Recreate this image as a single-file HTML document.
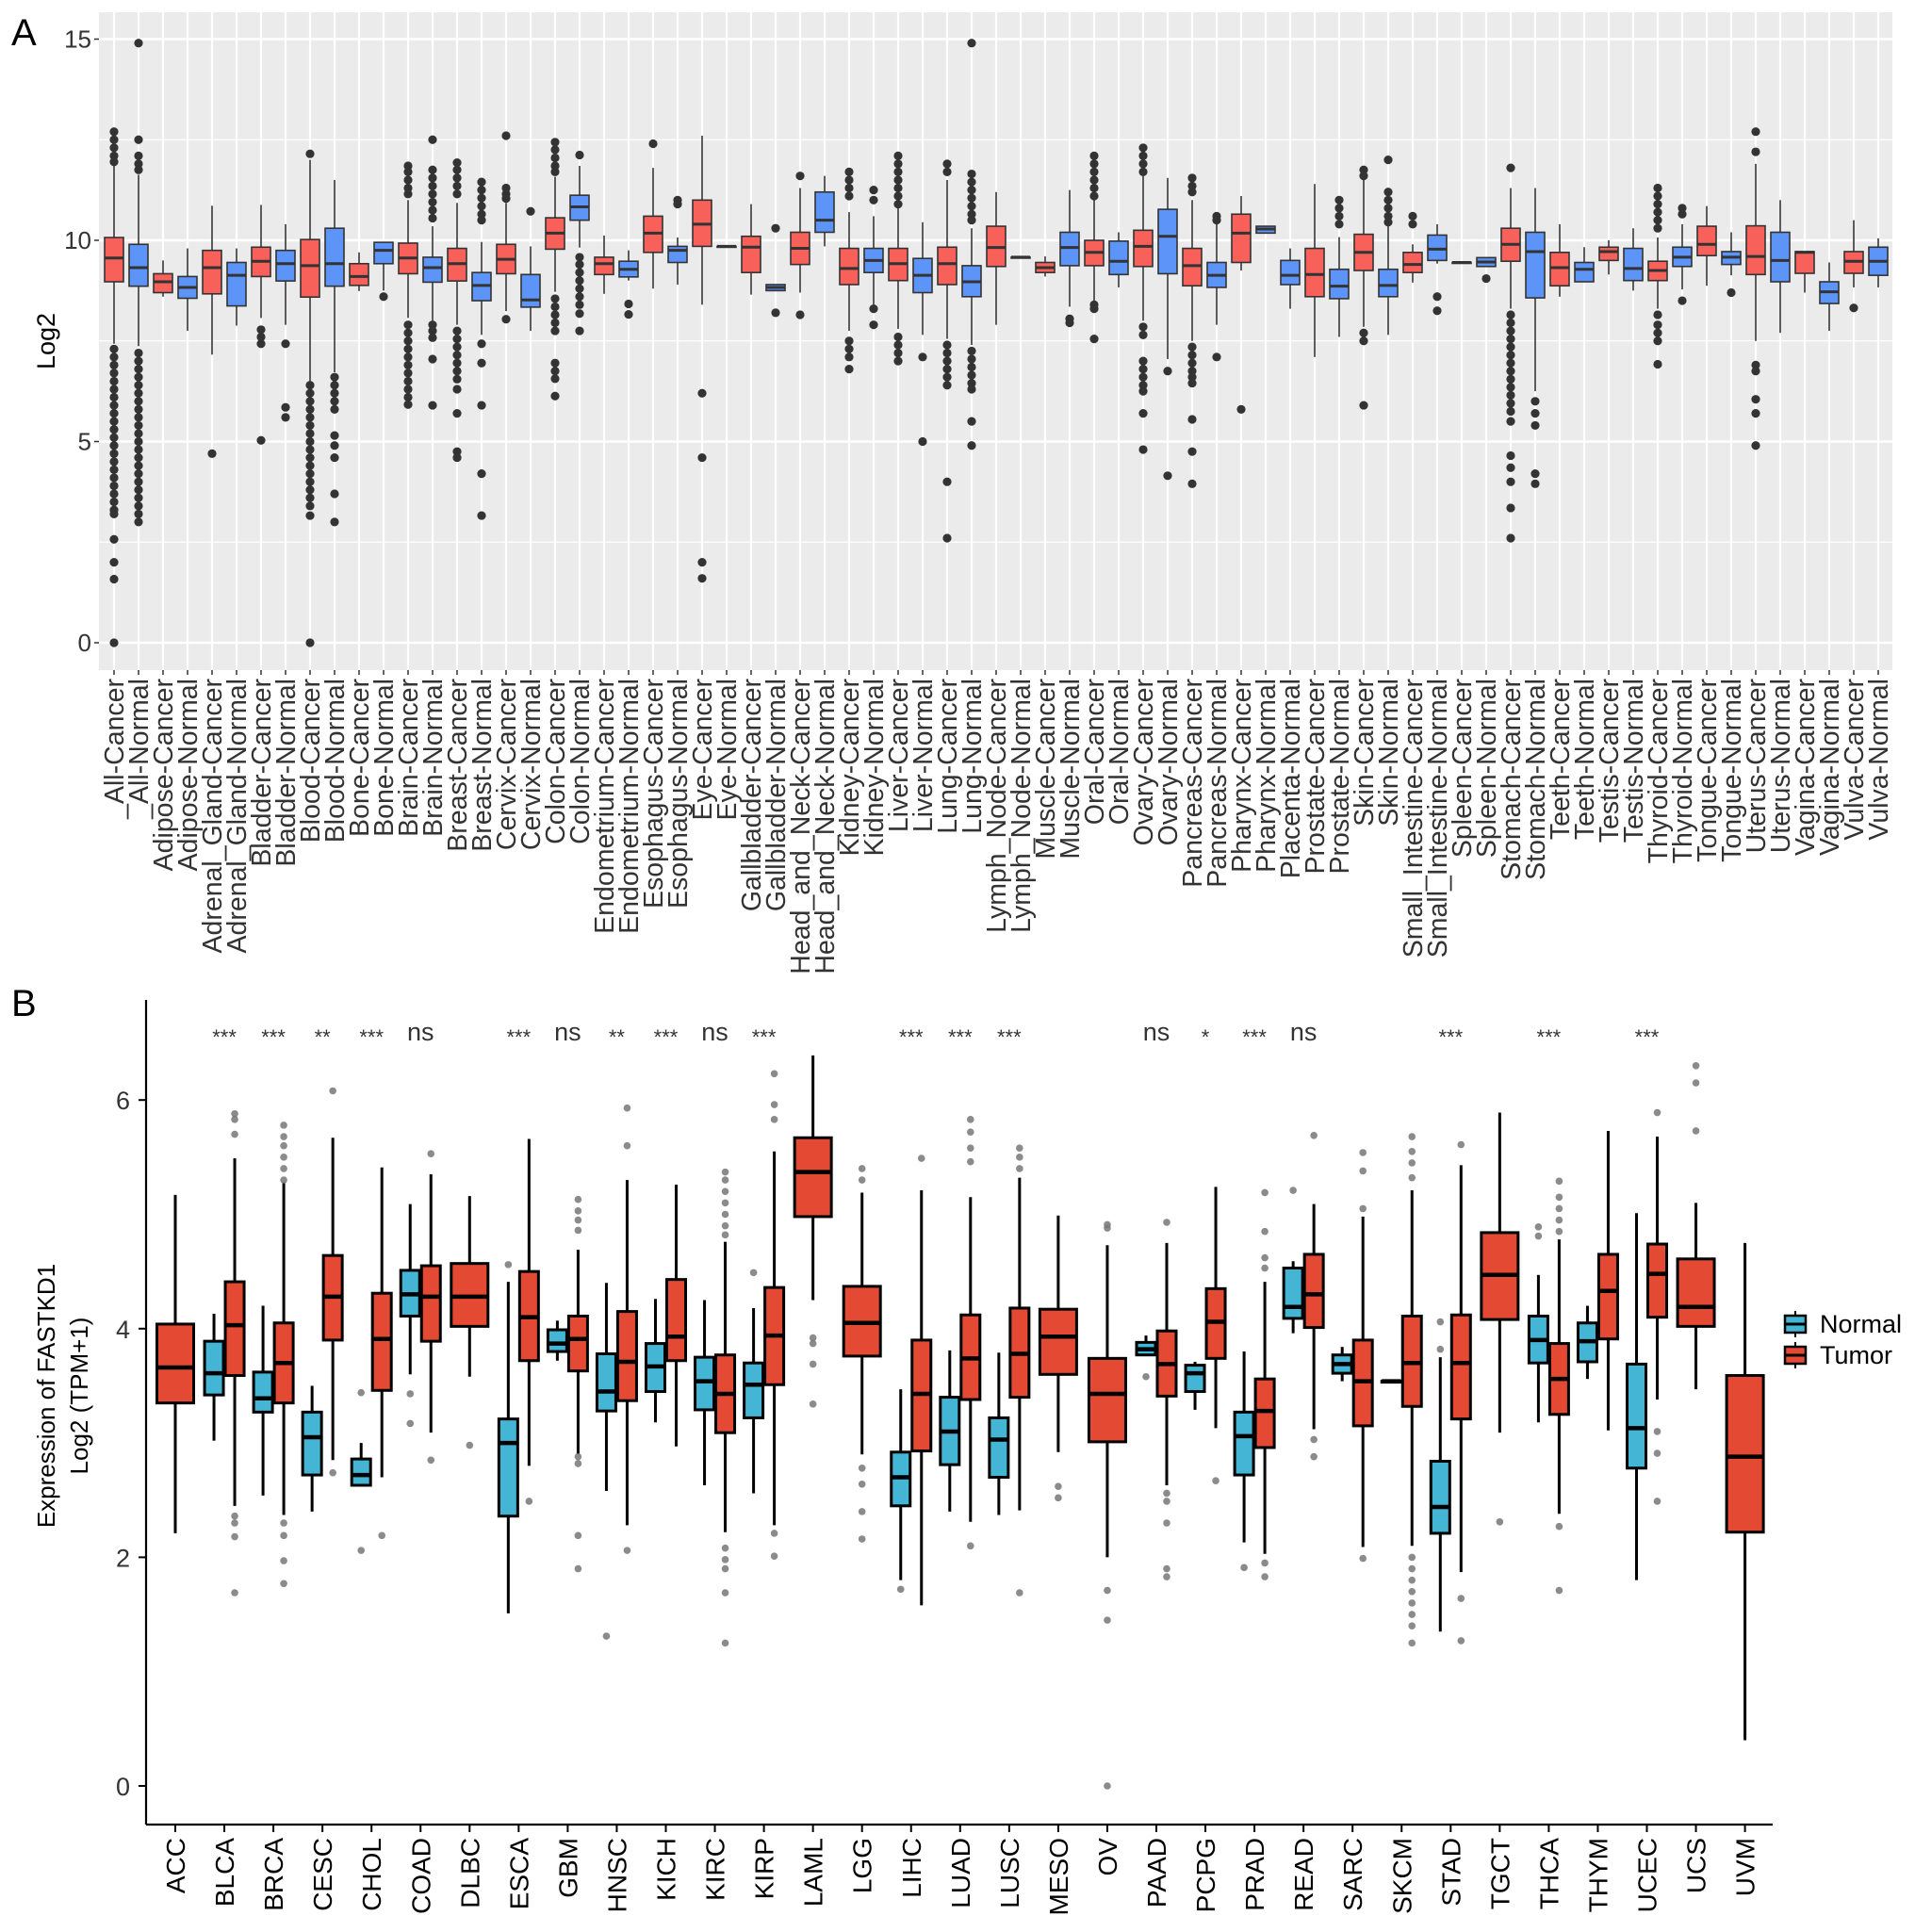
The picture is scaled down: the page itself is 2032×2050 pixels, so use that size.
<!DOCTYPE html>
<html><head><meta charset="utf-8"><style>
html,body{margin:0;padding:0;background:#fff}
svg{display:block;font-family:"Liberation Sans",Arial,sans-serif}
</style></head><body>
<svg id="fig" width="2032" height="2050" viewBox="0 0 2032 2050" xmlns="http://www.w3.org/2000/svg">
<g id="pa"></g>
<g id="pb"></g>
</svg>
<script>
// ---------- Panel A data ----------
const labelsA=["_All-Cancer","_All-Normal","Adipose-Cancer","Adipose-Normal","Adrenal_Gland-Cancer","Adrenal_Gland-Normal","Bladder-Cancer","Bladder-Normal","Blood-Cancer","Blood-Normal","Bone-Cancer","Bone-Normal","Brain-Cancer","Brain-Normal","Breast-Cancer","Breast-Normal","Cervix-Cancer","Cervix-Normal","Colon-Cancer","Colon-Normal","Endometrium-Cancer","Endometrium-Normal","Esophagus-Cancer","Esophagus-Normal","Eye-Cancer","Eye-Normal","Gallbladder-Cancer","Gallbladder-Normal","Head_and_Neck-Cancer","Head_and_Neck-Normal","Kidney-Cancer","Kidney-Normal","Liver-Cancer","Liver-Normal","Lung-Cancer","Lung-Normal","Lymph_Node-Cancer","Lymph_Node-Normal","Muscle-Cancer","Muscle-Normal","Oral-Cancer","Oral-Normal","Ovary-Cancer","Ovary-Normal","Pancreas-Cancer","Pancreas-Normal","Pharynx-Cancer","Pharynx-Normal","Placenta-Normal","Prostate-Cancer","Prostate-Normal","Skin-Cancer","Skin-Normal","Small_Intestine-Cancer","Small_Intestine-Normal","Spleen-Cancer","Spleen-Normal","Stomach-Cancer","Stomach-Normal","Teeth-Cancer","Teeth-Normal","Testis-Cancer","Testis-Normal","Thyroid-Cancer","Thyroid-Normal","Tongue-Cancer","Tongue-Normal","Uterus-Cancer","Uterus-Normal","Vagina-Cancer","Vagina-Normal","Vulva-Cancer","Vulva-Normal"];
const q1A=[8.97,8.86,8.7,8.56,8.67,8.37,9.1,8.99,8.59,8.86,8.88,9.42,9.17,8.96,8.99,8.5,9.17,8.34,9.78,10.5,9.15,9.09,9.7,9.45,9.85,9.85,9.2,8.75,9.4,10.2,8.9,9.2,9.0,8.7,8.9,8.6,9.35,9.58,9.2,9.37,9.37,9.15,9.35,9.17,8.87,8.83,9.45,10.18,8.9,8.6,8.55,9.25,8.6,9.2,9.5,9.45,9.35,9.48,8.57,8.87,8.97,9.5,9.0,9.0,9.35,9.62,9.4,9.15,8.97,9.18,8.43,9.18,9.13];
const medA=[9.56,9.32,8.97,8.83,9.32,9.13,9.48,9.42,9.37,9.42,9.1,9.75,9.56,9.32,9.42,8.88,9.53,8.52,10.18,10.83,9.42,9.28,10.18,9.75,10.4,9.85,9.83,8.83,9.8,10.5,9.3,9.5,9.42,9.13,9.42,8.97,9.82,9.58,9.32,9.82,9.7,9.48,9.85,10.1,9.37,9.13,10.18,10.28,9.13,9.15,8.86,9.7,8.88,9.4,9.78,9.45,9.46,9.9,9.72,9.32,9.28,9.72,9.3,9.25,9.58,9.9,9.58,9.6,9.5,9.7,8.72,9.48,9.48];
const q3A=[10.07,9.9,9.17,9.1,9.75,9.45,9.83,9.75,10.02,10.3,9.42,9.95,9.93,9.58,9.8,9.2,9.9,9.15,10.56,11.12,9.58,9.48,10.6,9.85,11.0,9.85,10.1,8.9,10.2,11.2,9.8,9.8,9.8,9.55,9.83,9.37,10.35,9.58,9.45,10.2,10.0,9.98,10.25,10.77,9.8,9.45,10.65,10.35,9.5,9.8,9.28,10.15,9.28,9.7,10.13,9.45,9.57,10.3,10.2,9.7,9.45,9.83,9.8,9.48,9.83,10.35,9.72,10.36,10.2,9.72,8.97,9.72,9.83];
const loA=[7.43,7.37,8.6,7.75,7.16,7.88,8.07,7.9,6.5,6.72,8.74,8.75,8.07,8.0,7.9,7.65,8.24,7.75,8.72,9.82,8.67,9.0,8.8,8.9,8.4,9.85,8.65,8.75,8.7,9.85,7.75,8.4,7.8,7.65,7.55,7.4,7.9,9.58,9.1,8.35,8.5,8.83,8.0,7.05,7.5,7.9,9.25,10.18,8.3,7.1,7.6,7.85,7.65,8.95,9.42,9.45,9.35,8.3,6.25,8.6,8.97,9.15,8.75,8.3,8.78,8.87,9.13,7.5,7.7,8.7,7.75,8.83,8.83];
const hiA=[11.87,11.63,9.5,9.8,10.86,9.8,10.88,10.4,12.0,11.5,9.7,9.95,11.0,10.35,10.93,9.96,10.93,9.85,11.58,11.85,10.12,9.75,11.8,10.07,12.6,9.85,10.9,8.9,11.3,11.6,10.7,10.6,10.8,10.45,11.5,10.3,11.2,9.58,9.6,11.25,11.0,10.2,11.6,11.55,11.0,10.4,11.1,10.35,9.8,11.4,10.08,11.5,10.35,9.9,10.4,9.45,9.57,11.3,11.3,10.4,9.83,10.0,10.3,10.07,10.4,10.85,10.2,11.9,11.0,9.72,9.45,10.5,10.05];
const outA=[
[12.7,12.5,12.3,12.1,11.95,7.3,7.1,6.9,6.7,6.5,6.3,6.1,5.9,5.7,5.5,5.3,5.1,4.9,4.7,4.5,4.3,4.1,3.9,3.7,3.5,3.3,3.2,2.57,2.0,1.58,0],
[14.9,12.5,12.1,11.9,11.75,7.2,7.0,6.8,6.6,6.4,6.2,6.0,5.8,5.6,5.4,5.2,5.0,4.8,4.6,4.4,4.2,4.0,3.8,3.6,3.4,3.2,3.0],
[],[],[4.7],[],[7.78,7.6,7.43,5.03],[7.43,5.85,5.6],
[12.15,6.4,6.2,6.0,5.8,5.6,5.4,5.2,5.0,4.8,4.6,4.4,4.2,4.0,3.8,3.6,3.4,3.16,0],
[6.6,6.4,6.2,6.0,5.8,5.15,4.9,4.6,3.7,3.0],
[],[8.6],
[11.85,11.7,11.5,11.3,11.15,7.9,7.7,7.5,7.3,7.1,6.9,6.7,6.5,6.3,6.1,5.92],
[12.5,11.75,11.55,11.35,11.15,10.95,10.75,10.55,7.9,7.75,7.58,7.05,5.9],
[11.93,11.75,11.55,11.35,11.15,7.75,7.55,7.35,7.15,6.95,6.75,6.55,6.3,5.7,4.75,4.6],
[11.45,11.25,11.05,10.85,10.65,10.5,7.43,6.95,5.9,4.2,3.16],
[12.6,11.3,11.15,11.04,8.04],[10.72],
[12.44,12.25,12.05,11.85,11.7,8.55,8.35,8.15,7.95,7.75,6.95,6.75,6.56,6.13],
[12.12,9.58,9.4,9.2,9.0,8.8,8.6,8.4,8.18,7.75],
[],[8.42,8.16],[12.4],[11.0,10.9],[6.2,4.6,2.0,1.6],[],[],[10.3,8.2],[11.6,8.15],[],
[11.7,11.5,11.3,11.1,7.5,7.3,7.1,6.8],[11.25,11.0,8.3,7.9],
[12.1,11.9,11.7,11.5,11.3,11.1,10.9,7.6,7.4,7.2,7.0],[7.1,5.0],
[11.9,11.7,7.4,7.2,7.0,6.8,6.6,6.4,4.0,2.6],
[14.9,11.65,11.45,11.25,11.05,10.85,10.65,10.5,7.25,7.05,6.85,6.65,6.45,6.3,5.5,4.9],
[],[],[],[8.05,7.95],
[12.1,11.9,11.7,11.5,11.3,11.1,8.4,8.3,7.55],[],
[12.3,12.1,11.9,11.7,7.85,7.65,7.0,6.8,6.6,6.4,6.25,5.7,4.8],[6.75,4.15],
[11.55,11.35,11.2,7.35,7.15,6.95,6.75,6.6,6.45,5.55,4.75,3.95],[10.6,10.5,7.1],
[5.8],[],[],[],[11.0,10.8,10.6,10.4],[11.75,11.6,7.7,7.5,5.9],[12.0,11.2,11.0,10.8,10.6,10.45],
[10.6,10.4],[8.6,8.25],[],[9.05],
[11.8,8.15,7.95,7.75,7.55,7.35,7.15,6.95,6.75,6.55,6.35,6.15,5.95,5.75,5.5,4.65,4.35,4.0,3.35,2.6],
[6.0,5.7,5.4,4.2,3.95],[],[],[],[],
[11.3,11.1,10.9,10.7,10.5,10.3,8.15,7.9,7.7,7.5,6.92],[10.8,10.65,8.5],[],[8.7],
[12.7,12.2,6.9,6.75,6.05,5.7,4.9],[],[],[],[8.32],[]];
const ticksA=[0,5,10,15];

// ---------- Panel B data ----------
const catsB=["ACC","BLCA","BRCA","CESC","CHOL","COAD","DLBC","ESCA","GBM","HNSC","KICH","KIRC","KIRP","LAML","LGG","LIHC","LUAD","LUSC","MESO","OV","PAAD","PCPG","PRAD","READ","SARC","SKCM","STAD","TGCT","THCA","THYM","UCEC","UCS","UVM"];
const sigB=["","***","***","**","***","ns","","***","ns","**","***","ns","***","","","***","***","***","","","ns","*","***","ns","","","***","","***","","***","",""];
// normal: [q1, median, q3, whiskerLow, whiskerHigh]
const normalB=[null,[3.42,3.61,3.89,3.02,4.13],[3.27,3.39,3.62,2.54,4.2],[2.72,3.05,3.27,2.4,3.5],[2.63,2.72,2.86,2.63,3.0],[4.11,4.3,4.51,3.6,5.09],null,[2.36,3.0,3.21,1.51,4.41],[3.8,3.87,3.99,3.72,4.07],[3.28,3.45,3.78,2.58,4.4],[3.45,3.67,3.87,3.18,4.26],[3.29,3.54,3.75,2.63,4.25],[3.22,3.51,3.7,2.56,4.18],null,null,[2.45,2.7,2.92,1.8,3.47],[2.81,3.1,3.4,2.4,3.81],[2.7,3.03,3.22,2.37,3.79],null,null,[3.77,3.82,3.88,3.77,3.94],[3.45,3.61,3.68,3.29,3.71],[2.72,3.06,3.27,2.13,3.8],[4.09,4.19,4.53,3.96,4.59],[3.61,3.69,3.77,3.54,3.84],[3.54,3.54,3.54,3.54,3.54],[2.21,2.44,2.84,1.35,3.75],null,[3.7,3.9,4.11,3.18,4.47],[3.71,3.89,4.05,3.56,4.2],[2.78,3.13,3.69,1.8,5.01],null,null];
const normalOutB=[[],[],[],[],[3.44,2.06],[3.43,3.17],[],[4.56],[],[1.31],[],[],[4.49],[],[],[1.72],[],[],[],[],[3.58],[],[1.91],[5.21],[],[],[4.06,3.82],[],[4.89,4.81],[],[],[],[]];
const tumorB=[[3.35,3.66,4.04,2.21,5.17],[3.59,4.03,4.41,2.45,5.49],[3.35,3.7,4.05,2.37,5.28],[3.9,4.28,4.64,2.85,5.67],[3.46,3.91,4.31,2.7,5.41],[3.89,4.28,4.55,3.09,5.35],[4.02,4.28,4.57,3.58,5.16],[3.72,4.1,4.5,2.8,5.66],[3.63,3.91,4.11,2.9,4.69],[3.37,3.71,4.15,2.28,5.3],[3.72,3.93,4.43,2.97,5.26],[3.09,3.43,3.77,2.22,4.76],[3.51,3.94,4.36,2.28,5.55],[4.98,5.37,5.67,4.25,6.39],[3.76,4.05,4.37,2.9,5.19],[2.93,3.43,3.9,1.58,5.21],[3.38,3.74,4.12,2.31,5.15],[3.4,3.78,4.18,2.41,5.32],[3.6,3.93,4.17,2.92,4.99],[3.01,3.43,3.74,2.0,4.73],[3.41,3.69,3.98,2.63,4.75],[3.74,4.06,4.35,3.13,5.24],[2.96,3.28,3.56,2.03,4.41],[4.01,4.3,4.65,3.12,5.09],[3.15,3.54,3.9,2.09,4.98],[3.32,3.7,4.11,2.1,5.21],[3.21,3.7,4.12,1.87,5.43],[4.08,4.47,4.84,3.09,5.89],[3.25,3.56,3.87,2.38,4.78],[3.91,4.33,4.65,3.11,5.73],[4.1,4.48,4.74,3.38,5.68],[4.02,4.19,4.61,3.47,5.1],[2.22,2.88,3.59,0.4,4.75]];
const tumorOutB=[[],[5.88,5.83,5.7,2.36,2.3,2.18,1.69],[5.78,5.68,5.6,5.5,5.4,5.3,2.3,2.19,1.97,1.77],[6.08,2.74],[2.19],[5.53,2.85],[2.98],[2.49],[5.13,5.03,4.95,4.86,2.88,2.82,2.19,1.9],[5.93,5.6,2.06],[],[5.37,5.3,5.2,5.1,5.0,4.9,4.82,2.08,1.98,1.9,1.69,1.25],[6.23,5.96,5.83,2.21,2.01],[3.92,3.87,3.69,3.34],[5.4,5.3,2.78,2.64,2.4,2.16],[5.49],[5.83,5.72,5.58,5.46,2.1],[5.58,5.5,5.4,1.69],[2.62,2.52],[4.91,4.88,1.71,1.45,0.0],[4.93,2.56,2.49,2.3,1.9,1.83],[2.67],[5.19,4.85,4.62,4.53,1.95,1.83],[5.69,3.03,2.88],[5.54,5.38,5.05,1.99],[5.68,5.55,5.45,5.32,2.0,1.9,1.8,1.7,1.6,1.5,1.4,1.25],[5.61,1.64,1.27],[2.31],[5.29,5.15,5.05,4.95,4.85,2.27,1.71],[],[5.89,3.1,2.91,2.49],[6.3,6.15,5.73],[]];
const ticksB=[0,2,4,6];

const NS="http://www.w3.org/2000/svg";
function mk(parent,tag,attrs,text){const e=document.createElementNS(NS,tag);for(const k in attrs)e.setAttribute(k,attrs[k]);if(text!==undefined)e.textContent=text;parent.appendChild(e);return e;}

// ---------- Panel A ----------
const pa=document.getElementById('pa');
const A={l:105,r:2008,t:13,b:711};
const xA=i=>121+i*26.0;
const yA=v=>682-v*42.7;
let bg=mk(pa,'rect',{x:A.l,y:A.t,width:A.r-A.l,height:A.b-A.t,fill:'#EBEBEB'});


[2.5,7.5,12.5].forEach(v=>{const g=mk(pa,'line',{x1:A.l,x2:A.r,y1:yA(v),y2:yA(v),stroke:'#fff','stroke-width':1.2});

});
ticksA.forEach(v=>{const g=mk(pa,'line',{x1:A.l,x2:A.r,y1:yA(v),y2:yA(v),stroke:'#fff','stroke-width':2.4});


const tk=mk(pa,'line',{x1:A.l-5,x2:A.l,y1:yA(v),y2:yA(v),stroke:'#333','stroke-width':1.5});


const t=mk(pa,'text',{x:A.l-8,y:yA(v)+9,'text-anchor':'end','font-size':26,fill:'#333'},String(v));

});
labelsA.forEach((lab,i)=>{const x=xA(i);
const g=mk(pa,'line',{x1:x,x2:x,y1:A.t,y2:A.b,stroke:'#fff','stroke-width':2.2});


const tk=mk(pa,'line',{x1:x,x2:x,y1:A.b,y2:A.b+5,stroke:'#333','stroke-width':1.5});


const t=mk(pa,'text',{x:x+10,y:720,'text-anchor':'end','font-size':28.5,fill:'#333',transform:`rotate(-90 ${x+10} 720)`},lab);

});
labelsA.forEach((lab,i)=>{const x=xA(i),w=20;const fill=lab.indexOf('Normal')>=0?'#5C94F8':'#F8605A';
const grp=mk(pa,'g',{});


mk(grp,'line',{x1:x,x2:x,y1:yA(hiA[i]),y2:yA(q3A[i]),stroke:'#333','stroke-width':1.6});
mk(grp,'line',{x1:x,x2:x,y1:yA(q1A[i]),y2:yA(loA[i]),stroke:'#333','stroke-width':1.6});
mk(grp,'rect',{x:x-w/2,y:yA(q3A[i]),width:w,height:Math.max(yA(q1A[i])-yA(q3A[i]),1),fill:fill,stroke:'#333','stroke-width':1.6});
mk(grp,'line',{x1:x-w/2,x2:x+w/2,y1:yA(medA[i]),y2:yA(medA[i]),stroke:'#333','stroke-width':3});
outA[i].forEach(v=>{mk(grp,'circle',{cx:x,cy:yA(v),r:4.6,fill:'#333'});});});
let la=mk(pa,'text',{x:12,y:48,'font-size':40,fill:'#000'},'A');


let yta=mk(pa,'text',{x:58,y:362,'text-anchor':'middle','font-size':27,fill:'#000',transform:'rotate(-90 58 362)'},'Log2');



// ---------- Panel B ----------
const pb=document.getElementById('pb');
const xB=i=>186+i*52.05;
const yB=v=>1895-v*121.3;
const B={l:155,r:1881,t:1061,b:1936};
let ax=mk(pb,'line',{x1:B.l,x2:B.l,y1:B.t,y2:B.b,stroke:'#000','stroke-width':2.2});


let axx=mk(pb,'line',{x1:B.l,x2:B.r,y1:B.b,y2:B.b,stroke:'#000','stroke-width':2.2});


ticksB.forEach(v=>{const tk=mk(pb,'line',{x1:B.l-8,x2:B.l,y1:yB(v),y2:yB(v),stroke:'#000','stroke-width':2});


const t=mk(pb,'text',{x:B.l-17,y:yB(v)+10,'text-anchor':'end','font-size':27,fill:'#333'},String(v));

});
function drawBox(parent,x,w,s,outs,fill){
mk(parent,'line',{x1:x,x2:x,y1:yB(s[4]),y2:yB(s[2]),stroke:'#000','stroke-width':3});
mk(parent,'line',{x1:x,x2:x,y1:yB(s[0]),y2:yB(s[3]),stroke:'#000','stroke-width':3});
mk(parent,'rect',{x:x-w/2,y:yB(s[2]),width:w,height:Math.max(yB(s[0])-yB(s[2]),1),fill:fill,stroke:'#000','stroke-width':3});
mk(parent,'line',{x1:x-w/2,x2:x+w/2,y1:yB(s[1]),y2:yB(s[1]),stroke:'#000','stroke-width':4.5});
outs.forEach(v=>{mk(parent,'circle',{cx:x,cy:yB(v),r:3.8,fill:'#777','fill-opacity':0.85});});}
catsB.forEach((c,i)=>{const x=xB(i);
const tk=mk(pb,'line',{x1:x,x2:x,y1:B.b,y2:B.b+8,stroke:'#000','stroke-width':2});


const t=mk(pb,'text',{x:x+10,y:1950,'text-anchor':'end','font-size':28,fill:'#000',transform:`rotate(-90 ${x+10} 1950)`},c);


const grp=mk(pb,'g',{});


if(normalB[i]){drawBox(grp,x-11,20,normalB[i],normalOutB[i],'#44B5D4');drawBox(grp,x+11,20,tumorB[i],tumorOutB[i],'#E44A33');}
else{drawBox(grp,x,39,tumorB[i],tumorOutB[i],'#E44A33');}
if(sigB[i]){const st=mk(pb,'text',{x:x,y:sigB[i]==='ns'?1104:1108,'text-anchor':'middle','font-size':sigB[i]==='ns'?27:22,fill:'#333'},sigB[i]);

}});
let lb=mk(pb,'text',{x:12,y:1078,'font-size':40,fill:'#000'},'B');


let yt1=mk(pb,'text',{x:58,y:1481,'text-anchor':'middle','font-size':26,fill:'#000',transform:'rotate(-90 58 1481)'},'Expression of FASTKD1');


let yt2=mk(pb,'text',{x:93,y:1481,'text-anchor':'middle','font-size':26,fill:'#000',transform:'rotate(-90 93 1481)'},'Log2 (TPM+1)');


// legend
const leg=mk(pb,'g',{});


[['Normal','#44B5D4',1405],['Tumor','#E44A33',1438]].forEach(([n,f,y])=>{
const k=mk(leg,'g',{});


mk(k,'line',{x1:1905,x2:1905,y1:y-14,y2:y+14,stroke:'#000','stroke-width':2});
mk(k,'rect',{x:1894,y:y-9,width:22,height:18,fill:f,stroke:'#000','stroke-width':2.5});
mk(k,'line',{x1:1894,x2:1916,y1:y,y2:y,stroke:'#000','stroke-width':3});
mk(k,'text',{x:1931,y:y+9,'font-size':27,fill:'#000'},n);});
</script>
</body></html>
